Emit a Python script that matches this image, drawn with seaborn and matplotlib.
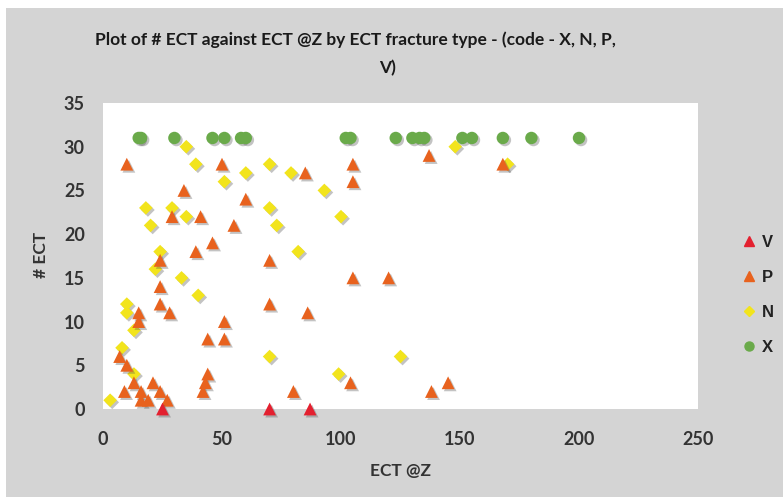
import matplotlib
matplotlib.use("Agg")
import matplotlib.pyplot as plt
import matplotlib.patheffects as pe
from matplotlib.patches import Rectangle
from matplotlib.lines import Line2D
import seaborn as sns
import pandas as pd

# ---- data ----
x_vals = [15, 16, 30, 46, 51, 58, 60, 102, 104, 123, 130, 133, 135, 151, 155, 168, 180, 200]
x_ect = [31] * len(x_vals)

n_vals = [3, 8, 10, 10, 13, 13, 18, 20, 22, 24, 29, 33, 35, 35, 39, 40, 51, 60, 70, 70,
          73, 79, 82, 93, 100, 70, 99, 125, 148, 170]
n_ect = [1, 7, 12, 11, 9, 4, 23, 21, 16, 18, 23, 15, 30, 22, 28, 13, 26, 27, 28, 23,
         21, 27, 18, 25, 22, 6, 4, 6, 30, 28]

p_vals = [10, 50, 85, 105, 105, 137, 168, 34, 60, 29, 41, 55, 24, 39, 46, 70, 105, 120,
          24, 24, 28, 15, 15, 70, 86, 51, 44, 51, 7, 10, 44, 43, 42, 21, 9, 13, 16, 16,
          24, 27, 19, 80, 104, 138, 145]
p_ect = [28, 28, 27, 28, 26, 29, 28, 25, 24, 22, 22, 21, 17, 18, 19, 17, 15, 15,
         14, 12, 11, 11, 10, 12, 11, 10, 8, 8, 6, 5, 4, 3, 2, 3, 2, 3, 2, 1,
         2, 1, 1, 2, 3, 2, 3]

v_vals = [25, 70, 87]
v_ect = [0, 0, 0]

x_ticks = [0, 50, 100, 150, 200, 250]
y_ticks = [0, 5, 10, 15, 20, 25, 30, 35]

title_line1 = "Plot of # ECT against ECT @Z by ECT fracture type - (code - X, N, P,"
title_line2 = "V)"

# ---- styling ----
sns.set_style("white")
plt.rcParams['font.family'] = ['Lato', 'DejaVu Sans']

W, H = 783, 497
fig = plt.figure(figsize=(W / 100, H / 100), dpi=100)
fig.patch.set_facecolor('white')
fig.add_artist(Rectangle((6 / W, 0), 1 - 6 / W, 1 - 8 / H, transform=fig.transFigure,
                         facecolor='#d4d4d4', edgecolor='none', zorder=-10))

ax = fig.add_axes([103 / W, 1 - 409 / H, 595 / W, 306 / H])
ax.set_facecolor('white')

shadow = [pe.SimplePatchShadow(offset=(1.5, -1.5), shadow_rgbFace='#555555', alpha=0.35), pe.Normal()]

series = [
    ("X", x_vals, x_ect, 'o', '#6aaa4a', 80),
    ("N", n_vals, n_ect, 'D', '#f2e41c', 48),
    ("P", p_vals, p_ect, '^', '#e8621e', 85),
    ("V", v_vals, v_ect, '^', '#e3202f', 85),
]
for name, xs, ys, mk, col, sz in series:
    df = pd.DataFrame({"ECT @Z": xs, "# ECT": ys})
    sns.scatterplot(data=df, x="ECT @Z", y="# ECT", marker=mk, color=col, s=sz,
                    edgecolor='none', linewidth=0, ax=ax, clip_on=False, zorder=3,
                    path_effects=shadow)

ax.set_xlim(0, 250)
ax.set_ylim(0, 35)
ax.set_xticks(x_ticks)
ax.set_yticks(y_ticks)
for s in ax.spines.values():
    s.set_visible(False)
ax.tick_params(axis='x', length=0, pad=16, labelsize=13, labelcolor='#333333')
ax.tick_params(axis='y', length=0, pad=13, labelsize=13, labelcolor='#333333')
for lab in ax.get_xticklabels() + ax.get_yticklabels():
    lab.set_fontweight('bold')

ax.set_xlabel("")
ax.set_ylabel("")
fig.text(400 / W, 1 - 471 / H, "ECT @Z", ha='center', va='center', fontsize=12.5,
         fontweight='bold', color='#333333')
fig.text(41 / W, 1 - 255 / H, "# ECT", ha='center', va='center', rotation=90, fontsize=12.5,
         fontweight='bold', color='#333333')

fig.text(355 / W, 1 - 40 / H, title_line1, ha='center', va='center', fontsize=12.5,
         fontweight='bold', color='#1a1a1a')
fig.text(388 / W, 1 - 68 / H, title_line2, ha='center', va='center', fontsize=12.5,
         fontweight='bold', color='#1a1a1a')

handles = [
    Line2D([], [], marker='^', color='#e3202f', linestyle='none', markersize=7),
    Line2D([], [], marker='^', color='#e8621e', linestyle='none', markersize=7),
    Line2D([], [], marker='D', color='#f2e41c', linestyle='none', markersize=5.5),
    Line2D([], [], marker='o', color='#6aaa4a', linestyle='none', markersize=6.5),
]
leg = fig.legend(handles, ["V", "P", "N", "X"], loc='upper left',
                 bbox_to_anchor=(727 / W, 1 - 220 / H), frameon=False,
                 labelspacing=1.2, handlelength=0.8, handletextpad=0.4,
                 prop={'family': 'Liberation Sans', 'weight': 'bold', 'size': 12})
for t in leg.get_texts():
    t.set_color('#222222')

fig.savefig("out.png", dpi=100, facecolor=fig.get_facecolor())
